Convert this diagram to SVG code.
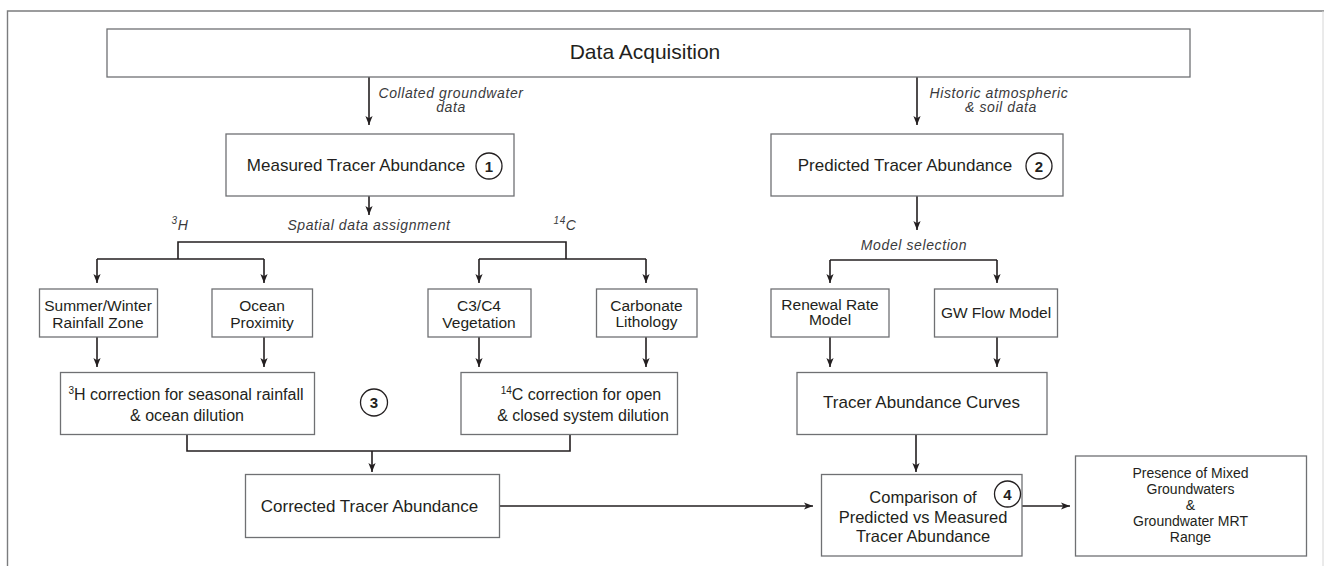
<svg xmlns="http://www.w3.org/2000/svg" width="1324" height="566" viewBox="0 0 1324 566">
  <style>
    .box { fill: #ffffff; stroke: #6f7073; stroke-width: 1.3; }
    .lbl { font-family: "Liberation Sans", Arial, sans-serif; fill: #231f20; text-anchor: middle; }
    .it { font-family: "Liberation Sans", Arial, sans-serif; font-style: italic; fill: #3a3a3c; font-size: 14px; letter-spacing: 0.6px; text-anchor: middle; }
    .num { fill: #ffffff; stroke: #231f20; stroke-width: 1.3; }
    .numt { font-family: "Liberation Sans", Arial, sans-serif; font-weight: bold; font-size: 15px; fill: #231f20; text-anchor: middle; }
    .wire { fill: none; stroke: #231f20; stroke-width: 1.6; }
    .arr { fill: none; stroke: #231f20; stroke-width: 1.6; marker-end: url(#ah); }
  </style>
  <defs>
    <marker id="ah" viewBox="0 0 10 10" refX="10" refY="5" markerWidth="9" markerHeight="9" orient="auto" markerUnits="userSpaceOnUse">
      <path d="M0,1 L10,5 L0,9 L2.5,5 z" fill="#231f20"/>
    </marker>
  </defs>

  <rect width="1324" height="566" fill="#ffffff"/>
  <!-- outer frame -->
  <path d="M7.5,566 V11 H1324" fill="none" stroke="#7b7c7e" stroke-width="1.4"/>
  <line x1="1323" y1="11" x2="1323" y2="566" stroke="#d6d6d6" stroke-width="1"/>

  <g id="connectors">
    <line class="arr" x1="369" y1="77" x2="369" y2="125"/>
    <line class="arr" x1="917" y1="77" x2="917" y2="125"/>
    <line class="arr" x1="369" y1="196" x2="369" y2="215"/>
    <path class="wire" d="M178,259 V242 H566 V259"/>
    <path class="wire" d="M97,259 H264 M479,259 H646"/>
    <line class="arr" x1="97" y1="259" x2="97" y2="283"/>
    <line class="arr" x1="264" y1="259" x2="264" y2="283"/>
    <line class="arr" x1="479" y1="259" x2="479" y2="283"/>
    <line class="arr" x1="646" y1="259" x2="646" y2="283"/>
    <line class="arr" x1="917" y1="196" x2="917" y2="230"/>
    <path class="wire" d="M830,260 H997"/>
    <line class="arr" x1="830" y1="260" x2="830" y2="283"/>
    <line class="arr" x1="997" y1="260" x2="997" y2="283"/>
    <line class="arr" x1="97" y1="337" x2="97" y2="367"/>
    <line class="arr" x1="264" y1="337" x2="264" y2="367"/>
    <line class="arr" x1="479" y1="337" x2="479" y2="367"/>
    <line class="arr" x1="646" y1="337" x2="646" y2="367"/>
    <line class="arr" x1="830" y1="337" x2="830" y2="367"/>
    <line class="arr" x1="997" y1="337" x2="997" y2="367"/>
    <path class="wire" d="M187,434 V451 H570 V434"/>
    <line class="arr" x1="372" y1="451" x2="372" y2="472"/>
    <line class="arr" x1="916" y1="434" x2="916" y2="472"/>
    <line class="arr" x1="499" y1="506" x2="813" y2="506"/>
    <line class="arr" x1="1022" y1="506" x2="1070" y2="506"/>
  </g>

  <!-- connector labels -->
  <g id="edge-labels">
    <text class="it" x="451" y="98">Collated groundwater</text>
    <text class="it" x="451" y="112">data</text>
    <text class="it" x="999" y="98">Historic atmospheric</text>
    <text class="it" x="1001" y="112">&amp; soil data</text>
    <text class="it" x="369" y="230">Spatial data assignment</text>
    <text class="it" x="180" y="230" font-size="15"><tspan font-size="10" dy="-6">3</tspan><tspan dy="6">H</tspan></text>
    <text class="it" x="565" y="230" font-size="15"><tspan font-size="10" dy="-6">14</tspan><tspan dy="6">C</tspan></text>
    <text class="it" x="914" y="250">Model selection</text>
  </g>

  <g id="data-acquisition">
    <rect class="box" x="107" y="29" width="1083" height="48"/>
    <text class="lbl" x="645" y="59" font-size="21">Data Acquisition</text>
  </g>

  <g id="measured">
    <rect class="box" x="226" y="134" width="288" height="62"/>
    <text class="lbl" x="356" y="171" font-size="17">Measured Tracer Abundance</text>
    <circle class="num" cx="489" cy="166" r="13"/>
    <text class="numt" x="489" y="171.5">1</text>
  </g>

  <g id="predicted">
    <rect class="box" x="771" y="134" width="292" height="62"/>
    <text class="lbl" x="905" y="171" font-size="17">Predicted Tracer Abundance</text>
    <circle class="num" cx="1039" cy="166" r="13"/>
    <text class="numt" x="1039" y="171.5">2</text>
  </g>

  <g id="rainfall-zone">
    <rect class="box" x="39.5" y="289" width="118" height="48"/>
    <text class="lbl" x="98" y="311" font-size="15.5">Summer/Winter</text>
    <text class="lbl" x="98" y="327.5" font-size="15.5">Rainfall Zone</text>
  </g>

  <g id="ocean-proximity">
    <rect class="box" x="212" y="289" width="100.5" height="48"/>
    <text class="lbl" x="262" y="311" font-size="15.5">Ocean</text>
    <text class="lbl" x="262" y="327.5" font-size="15.5">Proximity</text>
  </g>

  <g id="vegetation">
    <rect class="box" x="428" y="289" width="103" height="48"/>
    <text class="lbl" x="479" y="311" font-size="15.5">C3/C4</text>
    <text class="lbl" x="479" y="327.5" font-size="15.5">Vegetation</text>
  </g>

  <g id="lithology">
    <rect class="box" x="596.5" y="289" width="100.5" height="48"/>
    <text class="lbl" x="646.5" y="311" font-size="15.5">Carbonate</text>
    <text class="lbl" x="646.5" y="327" font-size="15.5">Lithology</text>
  </g>

  <g id="renewal-rate">
    <rect class="box" x="771" y="289" width="118" height="48"/>
    <text class="lbl" x="830" y="310" font-size="15.5">Renewal Rate</text>
    <text class="lbl" x="830" y="324.5" font-size="15.5">Model</text>
  </g>

  <g id="gw-flow">
    <rect class="box" x="934.5" y="289" width="123" height="48"/>
    <text class="lbl" x="996" y="317.5" font-size="15.5">GW Flow Model</text>
  </g>

  <g id="h3-correction">
    <rect class="box" x="60.5" y="372.5" width="254" height="62"/>
    <text class="lbl" x="186" y="400" font-size="16"><tspan font-size="10" dy="-6">3</tspan><tspan dy="6">H correction for seasonal rainfall</tspan></text>
    <text class="lbl" x="187" y="420.5" font-size="16">&amp; ocean dilution</text>
  </g>

  <g id="step-3">
    <circle class="num" cx="374" cy="402.5" r="13.5"/>
    <text class="numt" x="374" y="408">3</text>
  </g>

  <g id="c14-correction">
    <rect class="box" x="461" y="372.5" width="216.5" height="62"/>
    <text class="lbl" x="581" y="400" font-size="16"><tspan font-size="10" dy="-6">14</tspan><tspan dy="6">C correction for open</tspan></text>
    <text class="lbl" x="583" y="420.5" font-size="16">&amp; closed system dilution</text>
  </g>

  <g id="abundance-curves">
    <rect class="box" x="797" y="372.5" width="250" height="62"/>
    <text class="lbl" x="921.5" y="408" font-size="17">Tracer Abundance Curves</text>
  </g>

  <g id="corrected">
    <rect class="box" x="245.5" y="474.5" width="254" height="63"/>
    <text class="lbl" x="369.5" y="511.5" font-size="17">Corrected Tracer Abundance</text>
  </g>

  <g id="comparison">
    <rect class="box" x="821.5" y="474.5" width="200.5" height="81.5"/>
    <text class="lbl" x="923" y="503" font-size="16.5">Comparison of</text>
    <text class="lbl" x="923" y="522.5" font-size="16.5">Predicted vs Measured</text>
    <text class="lbl" x="923" y="542" font-size="16.5">Tracer Abundance</text>
    <circle class="num" cx="1007.5" cy="494" r="13"/>
    <text class="numt" x="1007.5" y="499.5">4</text>
  </g>

  <g id="mixed-groundwaters">
    <rect class="box" x="1075.5" y="456" width="231" height="100"/>
    <text class="lbl" x="1190.5" y="477.5" font-size="14">Presence of Mixed</text>
    <text class="lbl" x="1190.5" y="494" font-size="14">Groundwaters</text>
    <text class="lbl" x="1190.5" y="510" font-size="14">&amp;</text>
    <text class="lbl" x="1190.5" y="526" font-size="14">Groundwater MRT</text>
    <text class="lbl" x="1190.5" y="542" font-size="14">Range</text>
  </g>
</svg>
